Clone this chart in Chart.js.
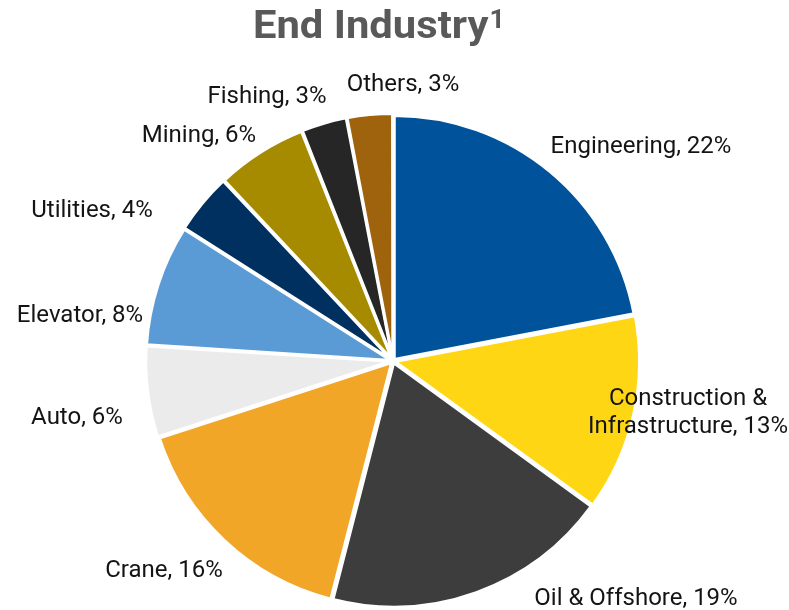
<!DOCTYPE html>
<html>
<head>
<meta charset="utf-8">
<script src="https://cdn.jsdelivr.net/npm/chart.js@4/dist/chart.umd.min.js"></script>
<style>
  html, body { margin: 0; padding: 0; background: #fff; }
  #wrap { width: 789px; height: 610px; position: relative; }
</style>
</head>
<body>
<div id="wrap"><canvas id="endIndustryPie"></canvas></div>
<script>
// datos del gráfico
var categories = ['Engineering', 'Construction &\nInfrastructure', 'Oil & Offshore', 'Crane', 'Auto',
                  'Elevator', 'Utilities', 'Mining', 'Fishing', 'Others'];
var shares = [22, 13, 19, 16, 6, 8, 4, 6, 3, 3];
var sliceColors = ['#00539B', '#FFD614', '#3D3D3D', '#F2A627', '#EBEBEB',
                   '#5B9BD5', '#00305F', '#A68A00', '#262626', '#A0630D'];

// posición de cada etiqueta respecto al centro del pastel (x centro del texto, y línea base)
var labelOffsets = [[248, -208], [295, 44], [243, 244], [-229, 216], [-316, 63],
                    [-313, -39], [-301, -144], [-194, -219], [-126, -258], [10, -270]];

// plugin para el título con superíndice
var titlePlugin = {
    id: 'endTitle',
    afterDraw: function(chart) {
        var ctx = chart.ctx;
        ctx.save();
        ctx.fillStyle = '#595959';
        ctx.textBaseline = 'alphabetic';
        ctx.textAlign = 'left';
        ctx.translate(253, 38);
        ctx.scale(1.07, 1);
        ctx.font = 'bold 39px Roboto';
        ctx.fillText('End Industry', 0, 0);
        var w = ctx.measureText('End Industry').width;
        ctx.font = 'bold 25px Roboto';
        ctx.fillText('1', w + 1, -10);
        ctx.restore();
    }
};

// plugin para las etiquetas fuera del pastel
var sliceLabels = {
    id: 'sliceLabels',
    afterDatasetsDraw: function(chart) {
        var ctx = chart.ctx;
        var arcs = chart.getDatasetMeta(0).data;
        ctx.save();
        ctx.font = '24px Roboto';
        ctx.fillStyle = '#141414';
        ctx.textAlign = 'center';
        ctx.textBaseline = 'alphabetic';
        arcs.forEach(function(arc, i) {
            var lines = categories[i].split('\n');
            lines[lines.length - 1] += ', ' + shares[i] + '%';
            var x = arc.x + labelOffsets[i][0];
            var y = arc.y + labelOffsets[i][1];
            lines.forEach(function(line, j) {
                ctx.fillText(line, x, y + j * 28);
            });
        });
        ctx.restore();
    }
};

var ctx = document.getElementById('endIndustryPie').getContext('2d');
window.endIndustryChart = new Chart(ctx, {
    type: 'pie',
    data: {
        labels: categories,
        datasets: [{
            data: shares,
            backgroundColor: sliceColors,
            borderColor: '#ffffff',
            borderWidth: 3,
            offset: 8
        }]
    },
    options: {
        responsive: true,
        maintainAspectRatio: false,
        animation: false,
        radius: 244,
        layout: { padding: { top: 112, right: 3, bottom: 0, left: 0 } },
        plugins: {
            legend: { display: false },
            tooltip: { enabled: false },
            title: { display: false }
        }
    },
    plugins: [sliceLabels, titlePlugin]
});
</script>
</body>
</html>
